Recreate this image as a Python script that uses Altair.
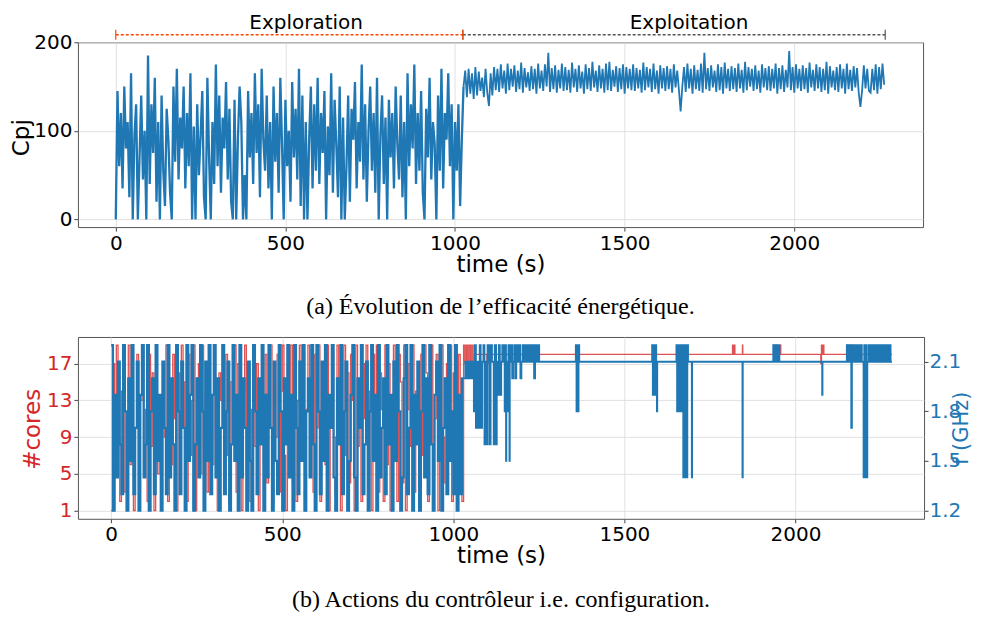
import altair as alt
import pandas as pd

BLUE = "#1f77b4"
RED = "#d62728"
FONT = "DejaVu Sans"

# ---------------- data ----------------
# (a) Cpj, exploration phase, one value every 5 s from t = 0 to 1020
cpj_explore = [
    0, 145, 60, 120, 35, 150, 80, 110, 25, 165, 0, 95, 130, 0, 70, 140, 45, 100, 0, 185,
    40, 130, 75, 160, 20, 110, 0, 140, 55, 15, 125, 90, 30, 0, 150, 65, 170, 45, 115, 80,
    150, 35, 120, 60, 165, 0, 105, 0, 130, 50, 95, 145, 25, 0, 160, 70, 0, 110, 40, 175,
    60, 140, 30, 115, 80, 155, 45, 125, 20, 0, 135, 0, 90, 150, 110, 0, 50, 0, 145, 70,
    120, 40, 165, 75, 130, 25, 170, 90, 55, 140, 35, 110, 0, 150, 65, 120, 30, 160, 85, 0,
    135, 60, 100, 20, 155, 70, 125, 45, 170, 15, 140, 0, 110, 0, 90, 150, 35, 130, 55, 160,
    40, 120, 75, 145, 0, 105, 50, 165, 30, 135, 85, 25, 150, 0, 115, 0, 60, 140, 20, 125,
    90, 155, 35, 110, 65, 175, 45, 130, 20, 100, 150, 55, 120, 30, 160, 0, 95, 140, 40, 115,
    0, 135, 70, 120, 35, 150, 85, 45, 140, 25, 110, 0, 165, 60, 130, 80, 175, 40, 120, 55,
    145, 30, 0, 125, 70, 160, 45, 110, 85, 0, 140, 55, 170, 35, 120, 90, 165, 60, 130, 0,
    110, 55, 130, 15, 90,
]
# (a) Cpj, exploitation phase, one value every 5 s from t = 1025 to 2265
cpj_exploit = [
    150, 168, 138, 170, 142, 165, 136, 172, 140, 167, 145, 160, 138, 170, 143, 128, 165, 140, 172, 146,
    170, 144, 175, 148, 168, 142, 176, 146, 170, 150, 174, 144, 168, 147, 177, 143, 171, 149, 166, 145,
    173, 147, 170, 142, 176, 148, 168, 145, 175, 150, 188, 144, 171, 147, 174, 143, 169, 148, 176, 145,
    172, 146, 169, 143, 177, 149, 170, 144, 174, 148, 167, 142, 175, 147, 171, 145, 178, 149, 168, 144,
    174, 148, 170, 143, 176, 146, 178, 145, 169, 150, 173, 144, 171, 147, 175, 142, 172, 148, 170, 146,
    175, 145, 171, 148, 169, 143, 177, 146, 172, 149, 170, 144, 176, 147, 168, 142, 174, 148, 171, 145,
    173, 147, 170, 143, 175, 149, 168, 146, 122, 150, 172, 144, 176, 148, 170, 142, 174, 147, 169, 145,
    176, 143, 188, 147, 171, 145, 174, 149, 168, 144, 175, 146, 172, 142, 177, 148, 170, 145, 173, 147,
    171, 144, 176, 148, 169, 143, 178, 146, 172, 150, 170, 145, 174, 147, 168, 143, 175, 149, 171, 146,
    173, 145, 170, 148, 176, 142, 171, 147, 174, 144, 169, 149, 190, 146, 172, 143, 175, 148, 170, 145,
    174, 147, 171, 143, 177, 149, 169, 145, 175, 148, 172, 144, 170, 146, 178, 142, 173, 149, 168, 146,
    172, 144, 175, 148, 170, 142, 176, 147, 169, 145, 173, 149, 171, 143, 127, 146, 174, 148, 170, 145,
    143, 170, 146, 175, 142, 172, 147, 176, 152,
]

# (b) exploration phase, one decision every 5 s from t = 0 to 1025
cores_explore = [
    1, 17, 5, 19, 9, 2, 14, 18, 3, 11, 19, 6, 15, 1, 10, 18, 4, 13, 19, 7,
    12, 2, 18, 8, 16, 1, 19, 5, 13, 3, 17, 9, 19, 2, 14, 6, 18, 11, 1, 16,
    4, 19, 10, 15, 2, 18, 7, 13, 19, 1, 11, 17, 5, 19, 8, 14, 3, 18, 12, 6,
    19, 9, 1, 16, 13, 19, 4, 18, 7, 2, 15, 11, 19, 3, 17, 10, 1, 14, 19, 5,
    16, 2, 12, 19, 8, 17, 1, 13, 19, 6, 18, 4, 10, 19, 2, 15, 9, 18, 3, 14,
    19, 7, 1, 17, 11, 19, 4, 16, 2, 13, 19, 8, 18, 1, 12, 19, 5, 15, 3, 18,
    10, 19, 2, 14, 17, 6, 19, 1, 12, 18, 9, 3, 19, 15, 1, 11, 19, 7, 16, 4,
    18, 13, 1, 19, 8, 15, 2, 17, 11, 19, 5, 14, 1, 18, 9, 19, 3, 16, 12, 2,
    19, 6, 17, 1, 13, 19, 10, 2, 18, 15, 4, 19, 1, 12, 17, 8, 19, 3, 14, 11,
    1, 18, 7, 19, 16, 2, 13, 19, 5, 11, 18, 1, 15, 19, 9, 4, 17, 12, 19, 2,
    16, 19, 3, 18, 13, 2,
]
freq_explore = [
    2.2, 1.2, 1.9, 1.4, 2.1, 1.6, 1.3, 2.2, 1.8, 1.2, 2.0, 1.5, 2.2, 1.3, 1.7, 2.1, 1.2, 1.9, 2.2, 1.4,
    1.6, 2.2, 1.2, 1.8, 2.0, 1.3, 2.2, 1.5, 1.9, 1.2, 2.1, 1.7, 1.3, 2.2, 1.4, 2.0, 1.6, 1.2, 2.2, 1.8,
    1.3, 2.1, 1.7, 1.2, 2.2, 1.5, 1.9, 2.2, 1.2, 1.6, 2.0, 1.4, 2.2, 1.8, 1.2, 2.1, 1.5, 2.2, 1.3, 1.9,
    2.2, 1.4, 2.0, 1.2, 1.7, 2.2, 1.3, 1.8, 2.1, 1.2, 1.6, 2.2, 1.5, 1.9, 1.2, 2.2, 1.4, 2.0, 1.7, 1.2,
    2.1, 1.5, 1.2, 2.2, 1.8, 1.3, 2.0, 1.6, 2.2, 1.2, 1.9, 1.4, 2.2, 1.7, 1.2, 2.1, 1.5, 1.3, 2.2, 1.8,
    1.2, 2.0, 1.6, 2.2, 1.4, 1.9, 1.2, 2.2, 1.7, 1.3, 2.1, 1.5, 2.2, 1.2, 1.8, 2.0, 1.4, 2.2, 1.6, 1.2,
    2.2, 1.8, 1.3, 2.1, 1.5, 2.2, 1.2, 1.9, 1.7, 2.2, 1.4, 1.2, 2.0, 1.6, 2.2, 1.3, 1.8, 2.1, 1.2, 1.5,
    1.9, 2.2, 1.4, 1.2, 2.0, 1.7, 2.2, 1.3, 1.6, 2.1, 1.2, 1.8, 2.2, 1.5, 1.9, 1.2, 2.2, 1.4, 1.7, 2.0,
    1.3, 2.2, 1.6, 1.9, 1.2, 2.1, 1.5, 2.2, 1.8, 1.2, 1.4, 2.0, 2.2, 1.3, 1.7, 2.2, 1.2, 1.9, 1.6, 2.1,
    1.2, 1.8, 2.2, 1.4, 2.0, 1.3, 2.2, 1.6, 1.2, 1.9, 2.1, 1.5, 2.2, 1.2, 1.7, 2.0, 1.3, 2.2, 1.5, 1.8,
    1.3, 2.2, 1.2, 1.9, 1.3, 2.0,
]
# (b) exploitation phase: (time, value) change points
cores_exploit = [
    (1030, 19), (1034, 17), (1038, 19), (1042, 17), (1046, 19), (1050, 17), (1054, 19), (1058, 17),
    (1062, 18), (1098, 17), (1102, 18), (1816, 19), (1818, 18), (1821, 19), (1823, 18), (1845, 19),
    (1846, 18), (1937, 19), (1939, 18), (1944, 19), (1946, 18), (1955, 19), (1957, 18), (2074, 17),
    (2076, 19), (2079, 18), (2082, 19), (2083, 18), (2152, 19), (2154, 18), (2163, 19), (2165, 18),
    (2282, 18),
]
freq_exploit = [
    (1030, 2.0), (1035, 2.1), (1038, 2.0), (1042, 2.1), (1046, 2.0), (1050, 2.1), (1053, 2.0), (1057, 2.1),
    (1060, 1.8), (1063, 2.2), (1066, 1.7), (1070, 2.1), (1073, 1.7), (1077, 2.2), (1080, 1.7), (1084, 2.1),
    (1088, 2.2), (1091, 1.6), (1094, 2.1), (1097, 1.6), (1100, 2.2), (1104, 2.1), (1106, 1.6), (1109, 2.2),
    (1113, 2.1), (1118, 1.6), (1121, 2.2), (1125, 1.6), (1127, 2.1), (1130, 1.9), (1133, 2.2), (1136, 1.9),
    (1140, 2.1), (1143, 2.2), (1147, 2.1), (1150, 1.8), (1152, 2.2), (1154, 1.5), (1155, 2.1), (1158, 1.8),
    (1161, 2.2), (1164, 1.5), (1165, 2.1), (1168, 2.2), (1172, 2.0), (1175, 2.1), (1178, 2.2), (1181, 2.0),
    (1184, 2.2), (1188, 2.1), (1192, 2.2), (1196, 2.0), (1199, 2.1), (1203, 2.2), (1207, 2.1), (1210, 2.2),
    (1214, 2.1), (1218, 2.2), (1221, 2.1), (1225, 2.2), (1228, 2.1), (1232, 2.2), (1236, 2.0), (1239, 2.2),
    (1243, 2.1), (1247, 2.2), (1251, 2.1),
    (1358, 2.2), (1360, 1.8), (1362, 2.2), (1364, 1.8), (1366, 2.2), (1368, 2.1),
    (1581, 2.2), (1583, 1.9), (1586, 2.2), (1588, 1.9), (1591, 2.2), (1593, 2.1), (1595, 1.8), (1596, 2.1),
    (1652, 2.2), (1654, 1.8), (1657, 2.2), (1659, 1.8), (1662, 2.2), (1664, 1.8), (1667, 2.2), (1670, 1.8),
    (1672, 1.4), (1674, 2.2), (1676, 1.4), (1679, 2.2), (1681, 1.4), (1684, 2.2), (1686, 2.1), (1697, 1.4),
    (1698, 2.1), (1845, 1.4), (1846, 2.1),
    (1935, 2.2), (1938, 2.1), (1942, 2.2), (1945, 2.1), (1950, 2.2), (1953, 2.1), (2078, 1.9), (2079, 2.1),
    (2150, 2.2), (2154, 2.1), (2157, 2.2), (2161, 2.1), (2163, 1.7), (2165, 2.2), (2169, 2.1), (2173, 2.2),
    (2177, 2.1), (2181, 2.2), (2185, 2.1), (2190, 2.2), (2194, 2.1), (2199, 1.4), (2201, 2.2), (2203, 1.4),
    (2206, 2.2), (2208, 1.4), (2210, 2.1), (2214, 2.2), (2218, 2.1), (2222, 2.2), (2226, 2.1), (2230, 2.2),
    (2233, 2.1), (2237, 2.2), (2240, 2.1), (2244, 2.2), (2247, 2.1), (2251, 2.2), (2254, 2.1), (2258, 2.2),
    (2262, 2.1), (2266, 2.2), (2270, 2.1), (2274, 2.2), (2278, 2.1), (2282, 2.1),
]

phase_names = ["Exploration", "Exploitation"]
phase_start = [0, 1023]
phase_end = [1023, 2268]
phase_label_t = [561, 1690]
phase_colors = ["#ff4500", "#555555"]

x_ticks = [0, 500, 1000, 1500, 2000]
cpj_ticks = [0, 100, 200]
cores_ticks = [1, 5, 9, 13, 17]
freq_ticks = [1.2, 1.5, 1.8, 2.1]

caption_a = "(a) Évolution de l’efficacité énergétique."
caption_b = "(b) Actions du contrôleur i.e. configuration."

# ---------------- tables ----------------
# exploration series also carries the first exploitation point so the two join
cpj_t_a = [5 * i for i in range(len(cpj_explore))] + [1025]
cpj_v_a = cpj_explore + [cpj_exploit[0]]
cpj_t_b = [1025 + 5 * i for i in range(len(cpj_exploit))]
top_df = pd.DataFrame({
    "t": cpj_t_a + cpj_t_b,
    "cpj": cpj_v_a + cpj_exploit,
    "phase": ["explore"] * len(cpj_t_a) + ["exploit"] * len(cpj_t_b),
})
cores_df = pd.DataFrame({
    "t": [5 * i for i in range(len(cores_explore))] + [p[0] for p in cores_exploit],
    "cores": cores_explore + [p[1] for p in cores_exploit],
})
freq_t_a = [5 * i for i in range(len(freq_explore))] + [freq_exploit[0][0]]
freq_v_a = freq_explore + [freq_exploit[0][1]]
freq_df = pd.DataFrame({
    "t": freq_t_a + [p[0] for p in freq_exploit],
    "freq": freq_v_a + [p[1] for p in freq_exploit],
    "phase": ["explore"] * len(freq_t_a) + ["exploit"] * len(freq_exploit),
})
phase_df = pd.DataFrame({
    "name": phase_names, "start": phase_start, "end": phase_end,
    "lab": phase_label_t, "color": phase_colors,
})
ends_df = pd.DataFrame({
    "t": phase_start + phase_end,
    "color": phase_colors + phase_colors,
})

# ---------------- encodings ----------------
x_axis = alt.Axis(values=x_ticks, format="d", title="time (s)")
top_x_scale = alt.Scale(domain=[-111.6, 2379.6], nice=False, zero=False)
bot_x_scale = alt.Scale(domain=[-97.2, 2375.8], nice=False, zero=False)


def xt(field):
    return alt.X(f"{field}:Q", scale=top_x_scale, axis=x_axis, title="time (s)")


def xb(field):
    return alt.X(f"{field}:Q", scale=bot_x_scale, axis=x_axis, title="time (s)")


cpj_scale = alt.Scale(domain=[-8.7, 200], nice=False, zero=False)
cpj_axis = alt.Axis(values=cpj_ticks, title="Cpj", titleX=-49, titleY=95,
                    titleAngle=270, titleAlign="center", titleBaseline="alphabetic")

line_top = alt.Chart(top_df).mark_line(color=BLUE).encode(
    x=xt("t"), y=alt.Y("cpj:Q", scale=cpj_scale, axis=cpj_axis, title="Cpj"),
    size=alt.Size("phase:N", scale=alt.Scale(domain=["explore", "exploit"], range=[2.3, 1.8]),
                  legend=None),
)

phase_rules = alt.Chart(phase_df).mark_rule(strokeDash=[3, 2], strokeWidth=1.5).encode(
    x=xt("start"), x2="end:Q", y=alt.value(-7.5), color=alt.Color("color:N", scale=None))
phase_ends = alt.Chart(ends_df).mark_rule(strokeWidth=1.2).encode(
    x=xt("t"), y=alt.value(-12.5), y2=alt.value(-2.5), color=alt.Color("color:N", scale=None))
phase_text = alt.Chart(phase_df).mark_text(
    font=FONT, fontSize=20, baseline="middle", align="center", color="black").encode(
    x=xt("lab"), y=alt.value(-19.5), text="name:N")

top = alt.layer(line_top, phase_rules, phase_ends, phase_text).properties(
    width=846, height=185,
    title=alt.TitleParams(caption_a, orient="bottom", font="Liberation Serif", fontSize=24,
                          fontWeight="normal", color="black", anchor="middle", offset=19),
)

cores_line = alt.Chart(cores_df).mark_line(
    interpolate="step-after", color=RED, strokeWidth=1.3, opacity=0.8).encode(
    x=xb("t"),
    y=alt.Y("cores:Q", scale=alt.Scale(domain=[0.1, 19.9], nice=False, zero=False),
            title="#cores",
            axis=alt.Axis(values=cores_ticks, title="#cores", labelColor=RED, titleColor=RED,
                          titleX=-38, titleY=92, titleAngle=270, titleAlign="center",
                          titleBaseline="alphabetic")))
freq_line = alt.Chart(freq_df).mark_line(
    interpolate="step-after", color=BLUE).encode(
    x=xb("t"),
    y=alt.Y("freq:Q", scale=alt.Scale(domain=[1.15, 2.25], nice=False, zero=False),
            title="f (GHz)",
            axis=alt.Axis(values=freq_ticks, format=".1f", orient="right", grid=False,
                          title="f (GHz)", labelColor=BLUE, titleColor=BLUE, labelPadding=1,
                          titleFontSize=21, titleX=43.6, titleY=91, titleAngle=270,
                          titleAlign="center", titleBaseline="alphabetic")),
    size=alt.Size("phase:N", scale=alt.Scale(domain=["explore", "exploit"], range=[2.8, 1.8]),
                  legend=None),
)

bottom = alt.layer(cores_line, freq_line).resolve_scale(y="independent").properties(
    width=847, height=182,
    title=alt.TitleParams(caption_b, orient="bottom", font="Liberation Serif", fontSize=24,
                          fontWeight="normal", color="black", anchor="middle", offset=20),
)

chart = alt.vconcat(top, bottom, spacing=110, bounds="flush").properties(
    padding={"left": 2, "top": 4, "right": 0, "bottom": 0}
).configure_view(
    stroke="#555555", strokeWidth=1
).configure_axis(
    labelFont=FONT, titleFont=FONT, labelFontSize=20, titleFontSize=23,
    titleFontWeight="normal", tickSize=4, tickColor="#444444", tickWidth=1,
    labelPadding=2, titlePadding=0, gridColor="#d9d9d9", gridWidth=0.8,
    domain=False, labelColor="black", titleColor="black", labelFlush=False,
)

chart.save("out.html", embed_options={"renderer": "svg", "actions": False})
